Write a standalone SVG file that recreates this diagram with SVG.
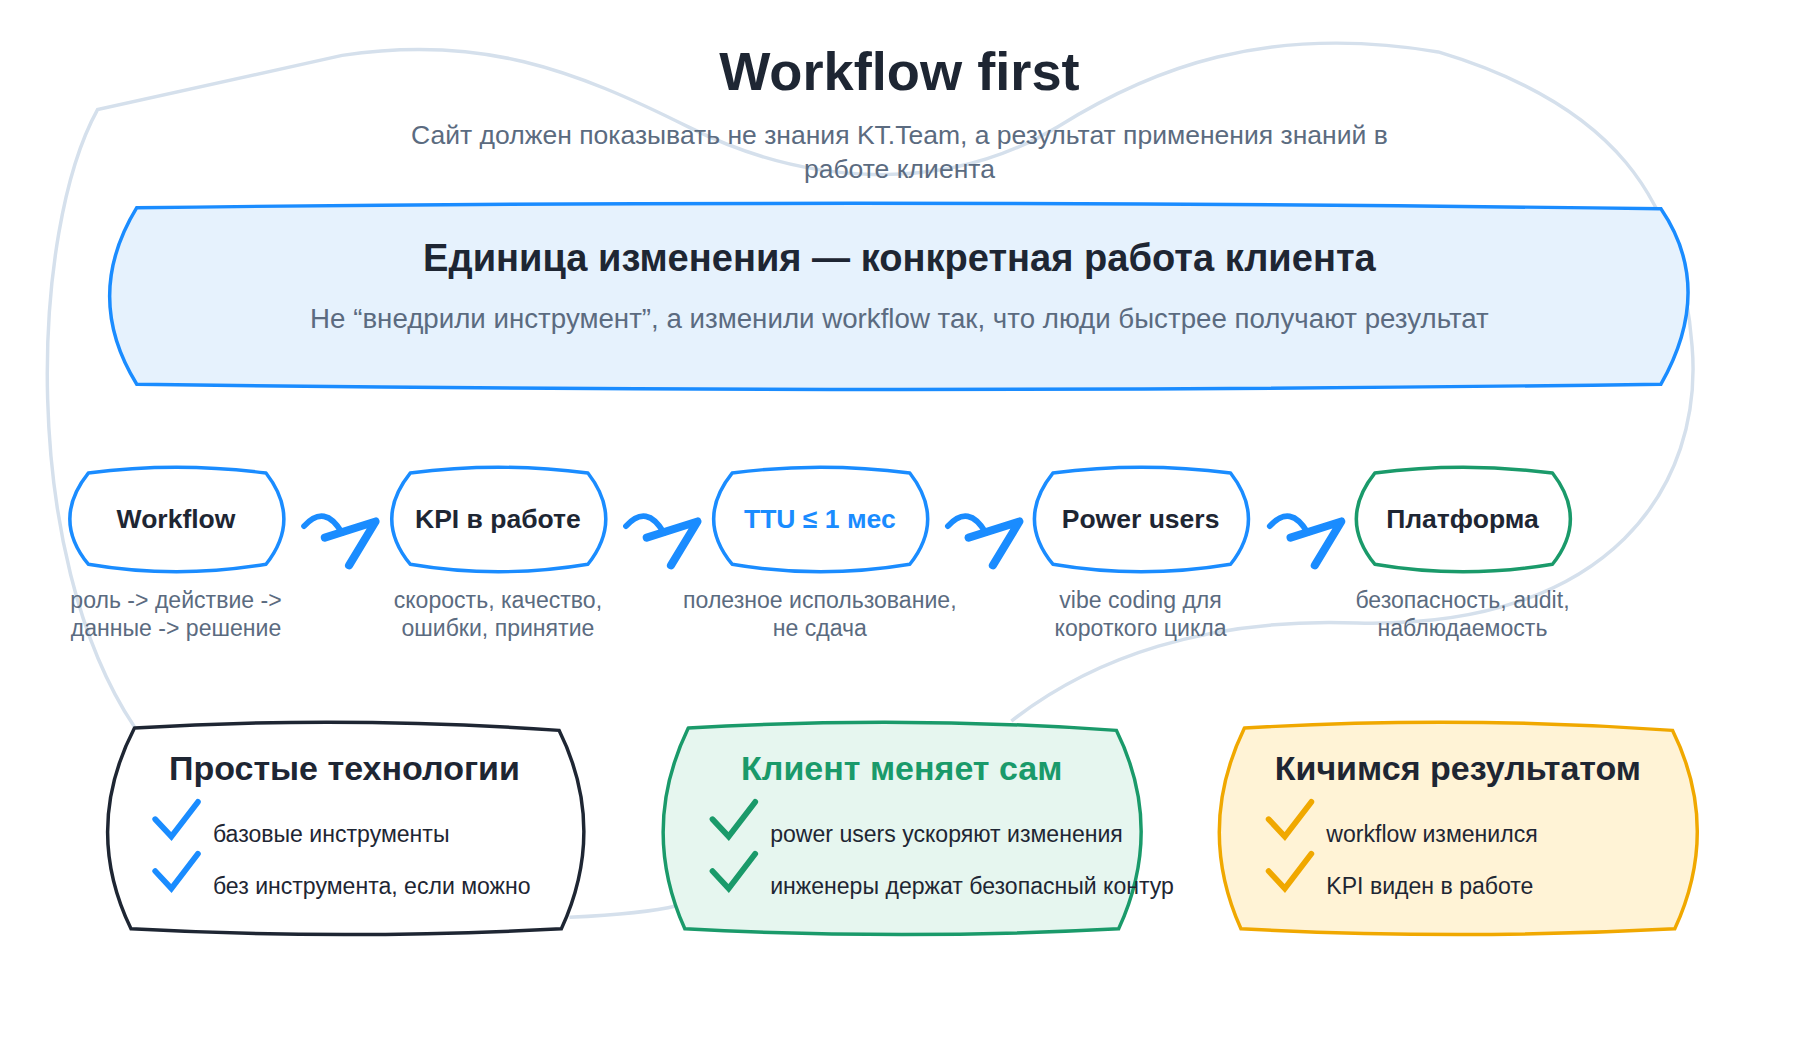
<svg xmlns="http://www.w3.org/2000/svg" width="1800" height="1050" viewBox="0 0 1800 1050">
<style>
.t{font-family:"Liberation Sans",Arial,sans-serif;text-anchor:middle}
.b{font-weight:bold}
.g{fill:#5b6b80}
.d{fill:#1e2633}
.bg{fill:none;stroke:#d5e0ec;stroke-width:3}
.node{stroke-width:3}
.arr{fill:none;stroke:#1a8cff;stroke-linecap:round;stroke-linejoin:round}
.it{font-family:"Liberation Sans",Arial,sans-serif;font-size:20px;fill:#1e2633}
.ck{fill:none;stroke-width:5;stroke-linecap:round}
</style>
<rect width="1800" height="1050" fill="#fff"/>
<g transform="translate(-4,0) scale(1.1538)">
<g id="background">
<path class="bg" d="M880,625 C950,570 1050,535 1180,540 C1400,545 1480,420 1470,300 C1460,170 1400,90 1250,45 C1100,20 1000,60 920,110 C820,170 700,160 600,110 C500,60 420,30 300,48 L88,95 C30,200 20,480 120,630"/>
<path class="bg" d="M497,795 C540,793 570,790 590,785"/>
</g>
<g id="title">
<text class="t b d" x="783" y="78" font-size="47">Workflow first</text>
<text class="t g" x="783" y="125" font-size="23">Сайт должен показывать не знания KT.Team, а результат применения знаний в</text>
<text class="t g" x="783" y="154" font-size="23">работе клиента</text>
</g>
<g id="banner">
<path d="M122,180 Q783,172 1443,181 Q1490,250 1443,333 Q783,342 122,333 Q75,257 122,180 Z" fill="#e6f2fd" stroke="#1a8cff" stroke-width="3"/>
<text class="t b d" x="783" y="235" font-size="33">Единица изменения — конкретная работа клиента</text>
<text class="t g" x="783" y="284" font-size="24">Не “внедрили инструмент”, а изменили workflow так, что люди быстрее получают результат</text>
</g>
<g id="connectors">
<g class="arr">
<path stroke-width="5" d="M267,456 Q285,436 300,462"/><path stroke-width="7" d="M285,466 L329,452 L306,490"/>
<path stroke-width="5" d="M546,456 Q564,436 579,462"/><path stroke-width="7" d="M564,466 L608,452 L585,490"/>
<path stroke-width="5" d="M825,456 Q843,436 858,462"/><path stroke-width="7" d="M843,466 L887,452 L864,490"/>
<path stroke-width="5" d="M1104,456 Q1122,436 1137,462"/><path stroke-width="7" d="M1122,466 L1166,452 L1143,490"/>
</g>
</g>
<g id="n1"><path class="node" d="M80,410 Q156,400 234,410 Q265,450 234,489 Q156,502 80,489 Q48,450 80,410 Z" fill="#fff" stroke="#1a8cff"/>
<text class="t b d" x="156" y="458" font-size="23">Workflow</text>
<text class="t g" x="156" y="527" font-size="20">роль -&gt; действие -&gt;</text><text class="t g" x="156" y="551" font-size="20">данные -&gt; решение</text></g>
<g id="n2"><path class="node" d="M359,410 Q435,400 513,410 Q544,450 513,489 Q435,502 359,489 Q327,450 359,410 Z" fill="#fff" stroke="#1a8cff"/>
<text class="t b d" x="435" y="458" font-size="23">KPI в работе</text>
<text class="t g" x="435" y="527" font-size="20">скорость, качество,</text><text class="t g" x="435" y="551" font-size="20">ошибки, принятие</text></g>
<g id="n3"><path class="node" d="M638,410 Q714,400 792,410 Q823,450 792,489 Q714,502 638,489 Q606,450 638,410 Z" fill="#fff" stroke="#1a8cff"/>
<text class="t b" x="714" y="458" font-size="23" fill="#1a8cff">TTU ≤ 1 мес</text>
<text class="t g" x="714" y="527" font-size="20">полезное использование,</text><text class="t g" x="714" y="551" font-size="20">не сдача</text></g>
<g id="n4"><path class="node" d="M916,410 Q992,400 1070,410 Q1101,450 1070,489 Q992,502 916,489 Q884,450 916,410 Z" fill="#fff" stroke="#1a8cff"/>
<text class="t b d" x="992" y="458" font-size="23">Power users</text>
<text class="t g" x="992" y="527" font-size="20">vibe coding для</text><text class="t g" x="992" y="551" font-size="20">короткого цикла</text></g>
<g id="n5"><path class="node" d="M1195,410 Q1271,400 1349,410 Q1380,450 1349,489 Q1271,502 1195,489 Q1163,450 1195,410 Z" fill="#fff" stroke="#1a9a6a"/>
<text class="t b d" x="1271" y="458" font-size="23">Платформа</text>
<text class="t g" x="1271" y="527" font-size="20">безопасность, audit,</text><text class="t g" x="1271" y="551" font-size="20">наблюдаемость</text></g>
<g id="c1"><path d="M120,631 Q300,620 488,633 Q530,718 490,805 Q300,815 117,805 Q75,718 120,631 Z" fill="#fff" stroke="#1e2633" stroke-width="3"/>
<text class="t b d" x="302" y="676" font-size="29.5">Простые технологии</text>
<path class="ck" stroke="#1a8cff" d="M138,710 L152,725 L175,695 M138,755 L152,770 L175,740"/>
<text class="it" x="188" y="730">базовые инструменты</text><text class="it" x="188" y="775">без инструмента, если можно</text></g>
<g id="c2"><path d="M600,631 Q785,620 971,633 Q1013,718 973,805 Q785,815 597,805 Q558,718 600,631 Z" fill="#e6f6ef" stroke="#1a9a6a" stroke-width="3"/>
<text class="t b" x="785" y="676" font-size="29.5" fill="#1a9a6a">Клиент меняет сам</text>
<path class="ck" stroke="#1a9a6a" d="M621,710 L635,725 L658,695 M621,755 L635,770 L658,740"/>
<text class="it" x="671" y="730">power users ускоряют изменения</text><text class="it" x="671" y="775">инженеры держат безопасный контур</text></g>
<g id="c3"><path d="M1082,631 Q1267,620 1453,633 Q1495,718 1455,805 Q1267,815 1079,805 Q1040,718 1082,631 Z" fill="#fff3d6" stroke="#f0a800" stroke-width="3"/>
<text class="t b d" x="1267" y="676" font-size="29.5">Кичимся результатом</text>
<path class="ck" stroke="#f0a800" d="M1103,710 L1117,725 L1140,695 M1103,755 L1117,770 L1140,740"/>
<text class="it" x="1153" y="730">workflow изменился</text><text class="it" x="1153" y="775">KPI виден в работе</text></g>
</g>
</svg>
